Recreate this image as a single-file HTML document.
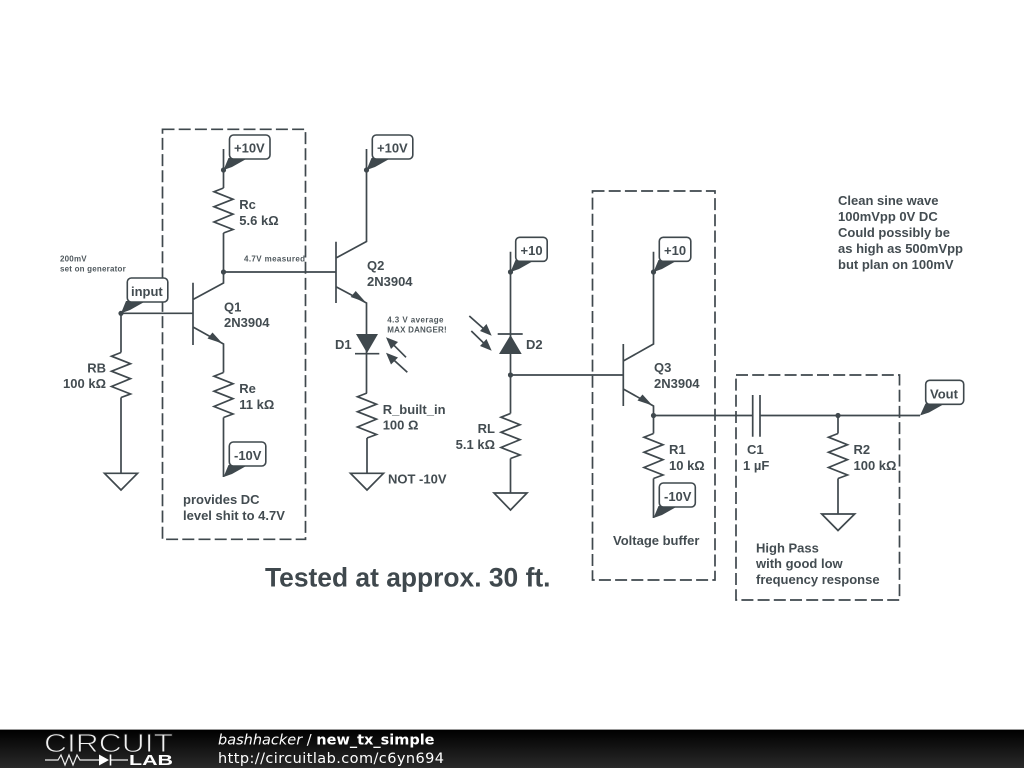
<!DOCTYPE html>
<html><head><meta charset="utf-8"><title>new_tx_simple</title>
<style>html,body{margin:0;padding:0;background:#fff;width:1024px;height:768px;overflow:hidden}svg{display:block}
.t{font:bold 13px "Liberation Sans",sans-serif;fill:#434c51}
.s{font:bold 8px "Liberation Sans",sans-serif;fill:#4f585d}
.w{fill:none;stroke:#3f484d;stroke-width:1.7}
.d{fill:none;stroke:#3f484d;stroke-width:1.7;stroke-dasharray:12 4.2}
.f{fill:#3f484d}
.g{fill:#fff;stroke:#3f484d;stroke-width:1.7}
.tag{fill:#fff;stroke:#3f484d;stroke-width:1.6}
.ft{font:14.5px "DejaVu Sans",sans-serif;fill:#fff}
</style></head><body>
<svg width="1024" height="768" viewBox="0 0 1024 768" xmlns="http://www.w3.org/2000/svg">
<defs>
<linearGradient id="bar" x1="0" y1="0" x2="0" y2="1"><stop offset="0" stop-color="#000"/><stop offset="1" stop-color="#2a2a2a"/></linearGradient>
<polyline id="r" class="w" points="0,0 -9.5,3.7 9.5,11.2 -9.5,18.7 9.5,26.2 -9.5,34 9.5,41.5 0,45"/>
</defs>
<rect width="1024" height="768" fill="#fff"/>

<!-- dashed boxes -->
<rect class="d" x="162.5" y="129.3" width="143" height="410"/>
<rect class="d" x="592.5" y="191" width="122.5" height="389"/>
<rect class="d" x="736" y="375" width="163.5" height="225"/>

<!-- resistors -->
<use href="#r" x="223.5" y="188"/>
<use href="#r" x="121" y="352.5"/>
<use href="#r" x="223.5" y="372.5"/>
<use href="#r" x="367" y="393"/>
<use href="#r" x="510.5" y="413.5"/>
<use href="#r" x="653.5" y="433.5"/>
<use href="#r" x="838" y="433.5"/>

<!-- wires -->
<path class="w" d="M223.5 149V188M223.5 233V283L193 299.5M193 282.7V345M121 313.3H193M193 327L223.5 344V372.5M223.5 417.5V477M121 313.3V352.5M121 397.5V473.3M223.5 272H336"/>
<path class="w" d="M336 241.7V303M336 258L366.5 241.5V149M336 286.7L366.5 303V393M367 438V473.3"/>
<path class="w" d="M510.5 251.7V413.5M510.5 458.5V493M510.5 375H623.3M623.3 344V406M623.3 361L653.5 344V251.7M623.3 389L653.5 406V433.5M653.5 478.5V518M653.5 415.5H752.7M760 415.5H920M752.7 395V436.7M760 395V436.7M838 415.5V433.5M838 478.5V514"/>

<!-- arrowheads on emitters -->
<polygon class="f" points="222.5,343.5 212.5,332.5 207.5,338.5"/>
<polygon class="f" points="365.7,302.2 355.7,291 350.7,297"/>
<polygon class="f" points="652.5,405.5 642.5,394.5 637.5,400.5"/>

<!-- grounds -->
<polygon class="g" points="104.5,473.3 137.5,473.3 121,490"/>
<polygon class="g" points="350.5,473.3 383.5,473.3 367,490"/>
<polygon class="g" points="494,493 527,493 510.5,510"/>
<polygon class="g" points="821.7,514 854.7,514 838,530.5"/>

<!-- diodes -->
<polygon class="f" points="356,334 378,334 367,353"/>
<path class="w" d="M355 353.7H379.3M497.7 334H522.7"/>
<polygon class="f" points="499,354 521.7,354 510.5,335"/>

<!-- light arrows -->
<path class="w" d="M406 357.3L388 339.3M407.3 372.3L388 354.7M469.3 316L489 333.5M471.3 331L489.5 348.7"/>
<polygon class="f" points="386,337.3 398,342 391,349"/>
<polygon class="f" points="386,352.7 398,357.5 391,364.5"/>
<polygon class="f" points="491.7,335.7 480,331 486.5,324"/>
<polygon class="f" points="491.7,350.7 480,346 486.5,339"/>

<!-- dots -->
<g class="f">
<circle cx="223.5" cy="170" r="2.6"/><circle cx="223.5" cy="272" r="2.6"/><circle cx="121" cy="313.3" r="2.6"/>
<circle cx="366.5" cy="170" r="2.6"/><circle cx="510.5" cy="272" r="2.6"/><circle cx="510.5" cy="375" r="2.6"/>
<circle cx="653.5" cy="272" r="2.6"/><circle cx="653.5" cy="415.5" r="2.6"/><circle cx="838" cy="415.5" r="2.6"/>
</g>

<!-- tag pointers -->
<g class="f">
<polygon points="223.5,170 228.5,158 248,158 232,167"/>
<polygon points="121,313.3 126,301 146,301 130,310"/>
<polygon points="223.5,477 228.5,465 248,465 232,474"/>
<polygon points="366.5,170 371.5,158 391,158 375,167"/>
<polygon points="510.5,272 515.5,260 535,260 519,269"/>
<polygon points="653.5,272 658.5,260 678,260 662,269"/>
<polygon points="653.5,518 658.5,506 678,506 662,515"/>
<polygon points="920,415.5 925.5,403.5 945,403.5 929,412.5"/>
</g>
<!-- tags -->
<rect class="tag" x="229.5" y="135" width="40.5" height="24" rx="4"/>
<rect class="tag" x="127.3" y="278" width="40.5" height="24" rx="4"/>
<rect class="tag" x="229.3" y="442" width="36.5" height="24" rx="4"/>
<rect class="tag" x="372.3" y="135" width="40.5" height="24" rx="4"/>
<rect class="tag" x="515.7" y="237.3" width="31.5" height="24" rx="4"/>
<rect class="tag" x="659.3" y="237.3" width="31.5" height="24" rx="4"/>
<rect class="tag" x="659.3" y="483" width="36" height="24" rx="4"/>
<rect class="tag" x="925.7" y="380.3" width="38" height="24" rx="4"/>

<!-- text -->
<g class="t">
<text x="234" y="152.5">+10V</text>
<text x="131" y="296">input</text>
<text x="234" y="460">-10V</text>
<text x="377" y="152.5">+10V</text>
<text x="520.5" y="255">+10</text>
<text x="664" y="255">+10</text>
<text x="664" y="501">-10V</text>
<text x="930" y="398.5">Vout</text>

<text x="239.3" y="209">Rc</text><text x="239.3" y="225">5.6 kΩ</text>
<text x="224" y="311.5">Q1</text><text x="224" y="327">2N3904</text>
<text x="106" y="372.5" text-anchor="end">RB</text><text x="106" y="388" text-anchor="end">100 kΩ</text>
<text x="239.3" y="393">Re</text><text x="239.3" y="409">11 kΩ</text>
<text x="183" y="504">provides DC</text><text x="183" y="520">level shit to 4.7V</text>
<text x="367" y="270">Q2</text><text x="367" y="286">2N3904</text>
<text x="335" y="349">D1</text>
<text x="382.7" y="414">R_built_in</text><text x="382.7" y="429.5">100 Ω</text>
<text x="388" y="483.5">NOT -10V</text>
<text x="526" y="349">D2</text>
<text x="495" y="433" text-anchor="end">RL</text><text x="495" y="449" text-anchor="end">5.1 kΩ</text>
<text x="654" y="372">Q3</text><text x="654" y="388">2N3904</text>
<text x="669" y="454">R1</text><text x="669" y="470">10 kΩ</text>
<text x="747" y="454">C1</text><text x="743" y="470">1 µF</text>
<text x="853.5" y="454">R2</text><text x="853.5" y="470">100 kΩ</text>
<text x="613" y="545">Voltage buffer</text>
<text x="756" y="552.5">High Pass</text><text x="756" y="568">with good low</text><text x="756" y="584">frequency response</text>
<text x="838" y="205">Clean sine wave</text><text x="838" y="221">100mVpp 0V DC</text><text x="838" y="237">Could possibly be</text><text x="838" y="253">as high as 500mVpp</text><text x="838" y="269">but plan on 100mV</text>
</g>
<g class="s">
<text x="60" y="261.5" letter-spacing=".2">200mV</text><text x="60" y="271.5" letter-spacing=".2">set on generator</text>
<text x="244" y="261.5" letter-spacing=".38">4.7V measured</text>
<text x="387.3" y="322.5" letter-spacing=".42">4.3 V average</text><text x="387.3" y="332.5" letter-spacing=".2">MAX DANGER!</text>
</g>
<text x="265" y="586.5" font-family="'Liberation Sans',sans-serif" font-weight="bold" font-size="26.4" fill="#3f484d">Tested at approx. 30 ft.</text>

<!-- footer -->
<rect x="0" y="729" width="1024" height="1.5" fill="#999"/>
<rect x="0" y="730" width="1024" height="38" fill="url(#bar)"/>
<text x="44" y="752" font-family="'Liberation Sans',sans-serif" font-size="26" fill="#f0f0f0" stroke="#151515" stroke-width=".9" textLength="129" lengthAdjust="spacingAndGlyphs">CIRCUIT</text>
<path d="M45 760H58L61 755 65 765 69 755 73 765 77 755 80 760H99M110 760H128" fill="none" stroke="#eee" stroke-width="1.2"/>
<polygon points="99,754.5 99,765.5 109,760" fill="#fff"/>
<path d="M110.5 754.5V765.5" stroke="#fff" stroke-width="1.6"/>
<text x="129" y="765" font-family="'Liberation Sans',sans-serif" font-weight="bold" font-size="15" fill="#fff" textLength="44" lengthAdjust="spacingAndGlyphs">LAB</text>
<text class="ft" x="218" y="744.5"><tspan font-style="italic">bashhacker</tspan> / <tspan font-weight="bold">new_tx_simple</tspan></text>
<text class="ft" x="218" y="763" textLength="226">http://circuitlab.com/c6yn694</text>
</svg>
</body></html>
